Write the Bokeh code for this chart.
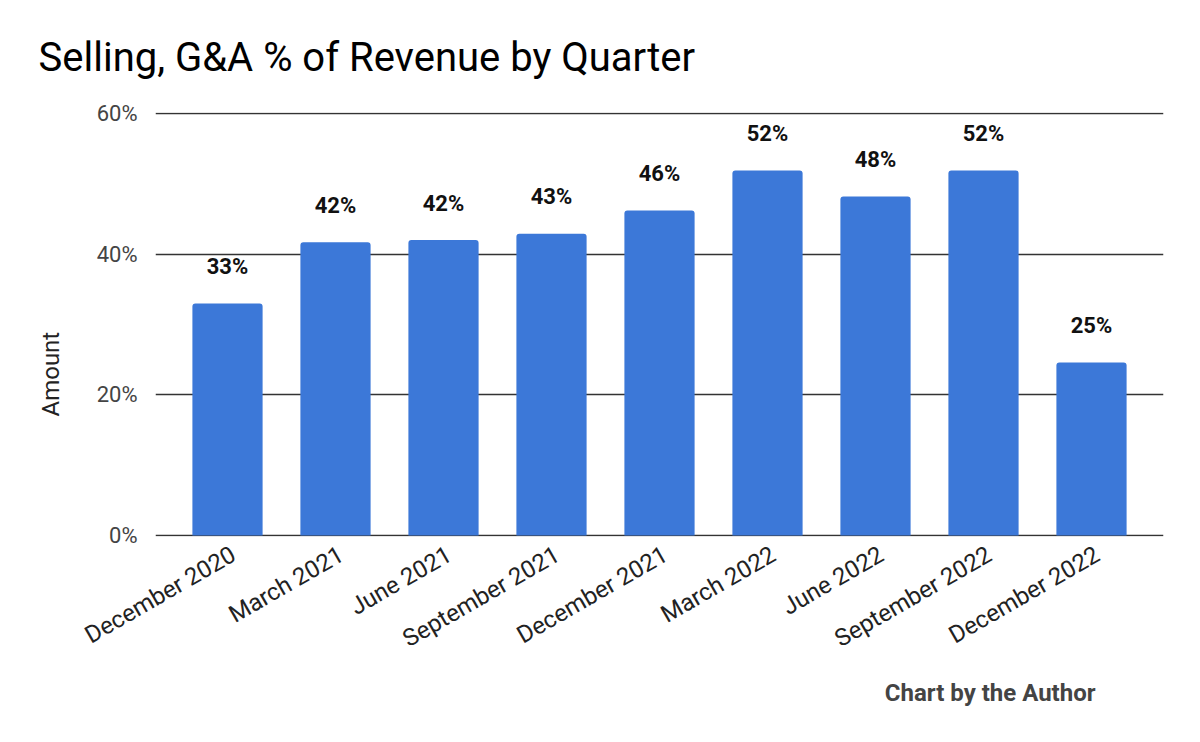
from math import pi
from bokeh.plotting import figure
from bokeh.models import Range1d, FixedTicker, Title, LinearAxis
from bokeh.core.properties import value
from bokeh.embed import file_html
from bokeh.resources import INLINE

quarters = ["December 2020", "March 2021", "June 2021", "September 2021", "December 2021",
            "March 2022", "June 2022", "September 2022", "December 2022"]
sga_pct = [33.0, 41.7, 42.0, 42.9, 46.2, 51.9, 48.2, 51.9, 24.6]
bar_labels = ["33%", "42%", "42%", "43%", "46%", "52%", "48%", "52%", "25%"]
y_ticks = [0, 20, 40, 60]
y_tick_labels = ["0%", "20%", "40%", "60%"]

FONT = "Roboto"
W, H = 1184, 726
PAD = 1 / 6             # slot padding at each end of the x range
LABEL_SHIFT = 6 / 108   # slanted labels sit a little right of the bar centre

n = len(quarters)
cat_pos = [i + 0.5 for i in range(n)]   # centre of each quarter's slot

p = figure(x_range=Range1d(-PAD, n + PAD), y_range=Range1d(-0.15, 60.15), x_axis_location=None,
           width=W, height=H, output_backend="svg", toolbar_location=None,
           min_border_left=155, min_border_right=21, min_border_top=112, min_border_bottom=190)
p.outline_line_color = None
p.background_fill_color = "white"
p.border_fill_color = "white"

p.vbar(x=cat_pos, top=sga_pct, width=0.65, color="#3c78d8", line_color=None,
       border_radius=(3, 3, 0, 0))

p.text(x=cat_pos, y=sga_pct, text=bar_labels, text_align="center", text_baseline="alphabetic",
       y_offset=-37, text_font=value(FONT), text_font_style="bold", text_font_size="22px",
       text_color="#111111")

p.xgrid.grid_line_color = None
p.ygrid.grid_line_color = "#333333"
p.ygrid.grid_line_width = 1.6
p.ygrid.ticker = FixedTicker(ticks=y_ticks)

p.yaxis.ticker = FixedTicker(ticks=y_ticks)
p.yaxis.major_label_overrides = {t: l for t, l in zip(y_ticks, y_tick_labels)}
p.yaxis.axis_line_color = None
p.yaxis.major_tick_line_color = None
p.yaxis.minor_tick_line_color = None
p.yaxis.major_label_text_font = FONT
p.yaxis.major_label_text_font_size = "22px"
p.yaxis.major_label_text_color = "#444444"
p.yaxis.major_label_standoff = 12

# quarter axis on a slightly shifted copy of the x range
p.extra_x_ranges = {"labels": Range1d(-PAD - LABEL_SHIFT, n + PAD - LABEL_SHIFT)}
xax = LinearAxis(x_range_name="labels", ticker=FixedTicker(ticks=cat_pos),
                 major_label_overrides={pos: q for pos, q in zip(cat_pos, quarters)},
                 axis_line_color=None, major_tick_line_color=None, minor_tick_line_color=None,
                 major_label_orientation=pi / 6, major_label_text_font=FONT,
                 major_label_text_font_size="24px", major_label_text_color="#222222",
                 major_label_standoff=10)
p.add_layout(xax, "below")

p.title.text = "Selling, G&A % of Revenue by Quarter"
p.title.align = "left"
p.title.offset = -117
p.title.standoff = 63
p.title.text_font = FONT
p.title.text_font_size = "40px"
p.title.text_font_style = "normal"
p.title.text_color = "#000000"

# small blank spacer between the y axis and the "Amount" label
p.add_layout(Title(text=" ", standoff=0, text_font=FONT, text_font_size="10px"), "left")
p.add_layout(Title(text="Amount", align="left", offset=120, standoff=31,
                   text_font=FONT, text_font_size="24px", text_font_style="normal",
                   text_color="#222222"), "left")
p.add_layout(Title(text="Chart by the Author", align="right", offset=68, standoff=22,
                   vertical_align="top", text_font=FONT, text_font_size="24px",
                   text_font_style="bold", text_color="#444444"), "below")

open("out.html", "w").write(file_html(p, INLINE))
